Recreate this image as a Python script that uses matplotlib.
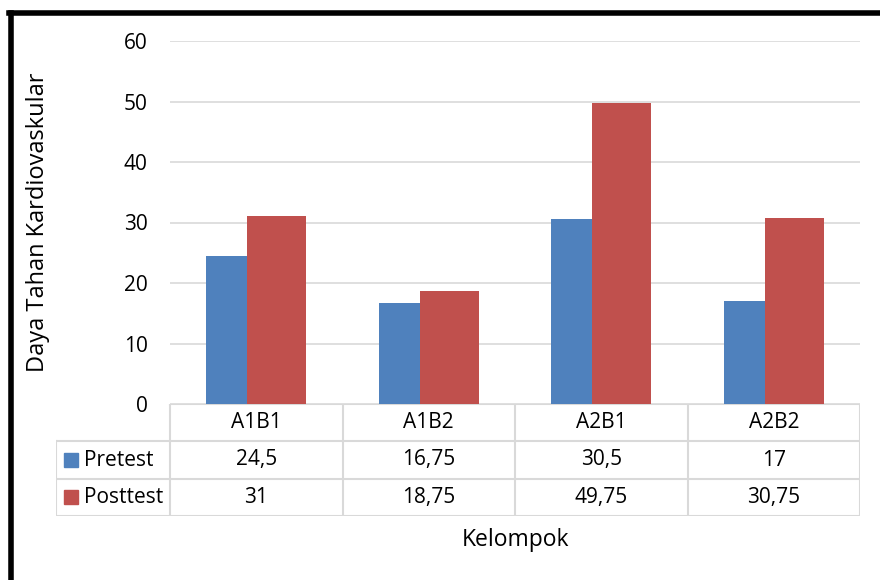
import numpy as np
import matplotlib
matplotlib.use("Agg")
import matplotlib.pyplot as plt
from matplotlib.patches import Rectangle
from matplotlib.lines import Line2D

groups = ["A1B1", "A1B2", "A2B1", "A2B2"]
series = ["Pretest", "Posttest"]
pretest = [24.5, 16.75, 30.5, 17]
posttest = [31, 18.75, 49.75, 30.75]
labels_pre = ["24,5", "16,75", "30,5", "17"]
labels_post = ["31", "18,75", "49,75", "30,75"]
colors = ["#4F81BD", "#C0504D"]

plt.rcParams['font.family'] = ['Open Sans', 'DejaVu Sans']
fs = 15
fs_lab = 16.5

W, H = 880, 580
fig = plt.figure(figsize=(8.8, 5.8), dpi=100)

def box(l, t, r, b):
    return [l / W, 1 - b / H, (r - l) / W, (b - t) / H]

ax = fig.add_axes(box(170, 41, 860, 404))
x = np.arange(len(groups))
w = 0.342
ax.bar(x - 0.12, pretest, w, color=colors[0], zorder=2)
ax.bar(x + 0.12, posttest, w, color=colors[1], zorder=3)
ax.set_xlim(-0.5, 3.5)
ax.set_ylim(0, 60)
ax.set_yticks(range(0, 61, 10))
ax.grid(axis='y', color='#D9D9D9', linewidth=1.2, zorder=0)
ax.set_xticks([])
for s in ax.spines.values():
    s.set_visible(False)
ax.tick_params(axis='y', length=0, pad=16, labelsize=fs)
ax.set_ylabel("Daya Tahan Kardiovaskular", fontsize=17)
ax.yaxis.set_label_coords((50 - 170) / 690, 0.5)

# data table
left_px = 56
x0 = -0.5 - (170 - left_px) / 172.5
tab = fig.add_axes(box(left_px, 404, 860, 516))
tab.set_xlim(x0, 3.5)
tab.set_ylim(3, 0)
tab.axis('off')
lc = '#D9D9D9'
lw = 1.5
tab.plot([-0.5, 3.5], [0, 0], color=lc, lw=lw)
for k in range(len(groups) + 1):
    tab.plot([k - 0.5, k - 0.5], [0, 3], color=lc, lw=lw)
for yy in [1, 2, 3]:
    tab.plot([x0, 3.5], [yy, yy], color=lc, lw=lw)
tab.plot([x0, x0], [1, 3], color=lc, lw=lw)
for i, g in enumerate(groups):
    tab.text(i, 0.5, g, ha='center', va='center', fontsize=fs)
for r, (name, vals, c) in enumerate(zip(series, [labels_pre, labels_post], colors)):
    yc = 1.5 + r
    tab.add_patch(Rectangle((x0 + 0.045, yc - 0.19), 0.083, 0.38, color=c))
    tab.text(x0 + 0.16, yc, name, ha='left', va='center', fontsize=fs)
    for i, v in enumerate(vals):
        tab.text(i, yc, v, ha='center', va='center', fontsize=fs)

fig.text(516 / W, 1 - 540 / H, "Kelompok", ha='center', va='center', fontsize=fs_lab)

# outer frame
fig.add_artist(Line2D([10.5 / W, 10.5 / W], [0, 1 - 12.5 / H], color='black', lw=4, transform=fig.transFigure))
fig.add_artist(Line2D([8.5 / W, 1], [1 - 12.5 / H, 1 - 12.5 / H], color='black', lw=4, transform=fig.transFigure))

fig.savefig("out.png", dpi=100)
